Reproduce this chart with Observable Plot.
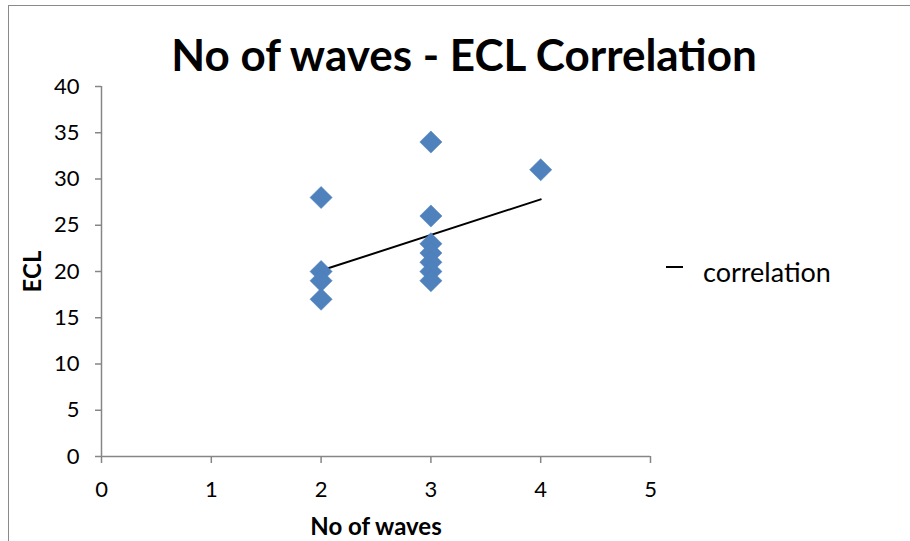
<!DOCTYPE html>
<html>
<head>
<meta charset="utf-8">
<script src="https://cdn.jsdelivr.net/npm/d3@7"></script>
<script src="https://cdn.jsdelivr.net/npm/@observablehq/plot@0.6"></script>
<style>
  html, body { margin: 0; padding: 0; background: #fff; }
  #wrap { position: relative; width: 910px; height: 541px; overflow: hidden; font-family: Lato, "Open Sans", sans-serif; }
  #frame { position: absolute; left: 8px; top: 5px; width: 910px; height: 600px; border-left: 1.5px solid #8a8a8a; border-top: 1.5px solid #8a8a8a; }
  #title { position: absolute; left: 0; width: 928px; top: 28px; text-align: center; font-weight: bold; font-size: 44px; line-height: 52px; color: #000; }
  #legend { position: absolute; left: 666px; top: 254px; font-size: 27px; line-height: 36px; color: #000; display: flex; align-items: center; }
  #legend .sw { width: 17px; height: 0; border-top: 2px solid #000; margin-right: 20px; margin-top: -10px; }
  #chart { position: absolute; left: 0; top: 0; }
</style>
</head>
<body>
<div id="wrap">
  <div id="frame"></div>
  <div id="chart"></div>
  <div id="title">No of waves - ECL Correlation</div>
  <div id="legend"><span class="sw"></span><span>correlation</span></div>
</div>
<script>
const waves = [2, 2, 2, 2, 3, 3, 3, 3, 3, 3, 3, 4];
const ecl   = [28, 20, 19, 17, 34, 26, 23, 22, 21, 20, 19, 31];
const trendX = [2, 4];
const trendY = [20.1, 27.8];
const xTicks = [0, 1, 2, 3, 4, 5];
const yTicks = [0, 5, 10, 15, 20, 25, 30, 35, 40];

const points = waves.map((w, i) => ({x: w, y: ecl[i]}));
const trend = trendX.map((x, i) => ({x, y: trendY[i]}));

const axisColor = "#868686";
const chart = Plot.plot({
  width: 910,
  height: 541,
  marginLeft: 101,
  marginRight: 260,
  marginTop: 86,
  marginBottom: 85,
  style: {fontFamily: "Lato, 'Open Sans', sans-serif", fontSize: "22px", color: "#000", background: "transparent"},
  x: {domain: [0, 5], ticks: xTicks, tickFormat: "d", label: null},
  y: {domain: [0, 40], ticks: yTicks, tickFormat: "d", label: null},
  marks: [
    Plot.ruleY([0], {stroke: axisColor, strokeWidth: 1.5}),
    Plot.ruleX([0], {stroke: axisColor, strokeWidth: 1.5}),
    Plot.axisX({ticks: xTicks, tickFormat: "d", tickSize: 7, tickPadding: 18, stroke: axisColor, strokeWidth: 1.5, fill: "#000", fontSize: 22, label: "No of waves", labelAnchor: "center", labelOffset: 78, labelArrow: "none"}),
    Plot.axisY({ticks: yTicks, tickFormat: "d", tickSize: 6, tickPadding: 16, stroke: axisColor, strokeWidth: 1.5, fill: "#000", fontSize: 22, label: "ECL", labelAnchor: "center", labelOffset: 78, labelArrow: "none"}),
    Plot.line(trend, {x: "x", y: "y", stroke: "#000", strokeWidth: 2}),
    Plot.dot(points, {x: "x", y: "y", symbol: "diamond2", r: 10, fill: "#4F81BD", stroke: "#4A7EBB", strokeWidth: 0.5})
  ]
});
chart.querySelectorAll("g[aria-label='x-axis label'] text, g[aria-label='y-axis label'] text").forEach(t => {
  t.setAttribute("font-weight", "bold");
  t.setAttribute("font-size", "24");
});
document.getElementById("chart").appendChild(chart);
</script>
</body>
</html>
